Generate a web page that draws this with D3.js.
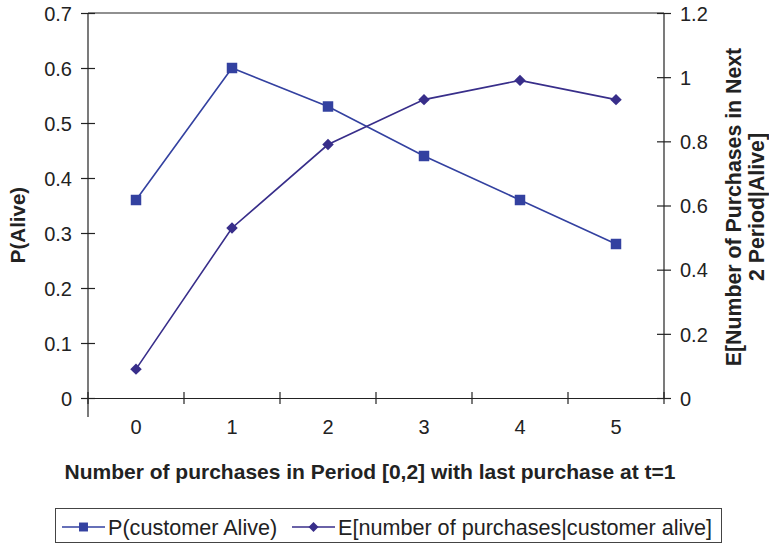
<!DOCTYPE html>
<html>
<head>
<meta charset="utf-8">
<script src="https://cdn.jsdelivr.net/npm/d3@7"></script>
<style>
  html, body { margin: 0; padding: 0; background: #fff; }
  svg { display: block; font-family: "Liberation Sans", Arial, Helvetica, sans-serif; }
</style>
</head>
<body>
<svg id="chart" width="769" height="545"></svg>
<script>
// ---- data ----
const categories = ["0", "1", "2", "3", "4", "5"];
const pAlive = [0.36, 0.60, 0.53, 0.44, 0.36, 0.28];
const eAlive = [0.09, 0.53, 0.79, 0.93, 0.99, 0.93];
const leftTicks = [0, 0.1, 0.2, 0.3, 0.4, 0.5, 0.6, 0.7];
const rightTicks = [0, 0.2, 0.4, 0.6, 0.8, 1, 1.2];
const seriesNames = ["P(customer Alive)", "E[number of purchases|customer alive]"];
const xTitle = "Number of purchases in Period [0,2] with last purchase at t=1";
const yLeftTitle = "P(Alive)";
const yRightTitle = ["E[Number of Purchases in Next", "2 Period|Alive]"];

// ---- layout ----
const L = 88, R = 664, T = 13, B = 398;
const colP = "#3341a0", colE = "#382e8a", axisCol = "#222";

const svg = d3.select("#chart");
const x = d3.scaleBand().domain(categories).range([L, R]);
const yL = d3.scaleLinear().domain([0, 0.7]).range([B, T]);
const yR = d3.scaleLinear().domain([0, 1.2]).range([B, T]);
const cx = c => x(c) + x.bandwidth() / 2;

const fmt = d => d === 0 ? "0" : String(+d.toFixed(1));

// top border
svg.append("line").attr("x1", L).attr("x2", R).attr("y1", T).attr("y2", T)
  .attr("stroke", axisCol).attr("stroke-width", 1.2);

// left axis
const gL = svg.append("g").attr("transform", `translate(${L},0)`)
  .call(d3.axisLeft(yL).tickValues(leftTicks).tickFormat(fmt).tickSize(7).tickPadding(9));
gL.select(".domain").remove();
gL.selectAll(".tick line").attr("x1", -7).attr("x2", 7).attr("stroke", axisCol).attr("stroke-width", 1.2);
gL.selectAll(".tick text").attr("font-size", 20).attr("fill", "#222").attr("x", -16).attr("dy", "0.36em");
svg.append("line").attr("x1", L).attr("x2", L).attr("y1", T).attr("y2", 417)
  .attr("stroke", axisCol).attr("stroke-width", 1.2);

// right axis
const gR = svg.append("g").attr("transform", `translate(${R},0)`)
  .call(d3.axisRight(yR).tickValues(rightTicks).tickFormat(fmt).tickSize(7).tickPadding(9));
gR.select(".domain").remove();
gR.selectAll(".tick line").attr("x1", -7).attr("x2", 7).attr("stroke", axisCol).attr("stroke-width", 1.2);
gR.selectAll(".tick text").attr("font-size", 20).attr("fill", "#222").attr("x", 16).attr("dy", "0.36em");
svg.append("line").attr("x1", R).attr("x2", R).attr("y1", T).attr("y2", B)
  .attr("stroke", axisCol).attr("stroke-width", 1.2);

// bottom axis
const gB = svg.append("g").attr("transform", `translate(0,${B})`)
  .call(d3.axisBottom(x).tickSize(0).tickPadding(36));
gB.select(".domain").attr("stroke", axisCol).attr("stroke-width", 1.2);
gB.selectAll(".tick text").attr("font-size", 20).attr("fill", "#222").attr("dy", "0");
const edges = categories.map(c => x(c)).concat([x.range()[1]]);
gB.selectAll("line.edge").data(edges).enter().append("line")
  .attr("class", "edge").attr("x1", d => d).attr("x2", d => d)
  .attr("y1", -6).attr("y2", 6).attr("stroke", axisCol).attr("stroke-width", 1.2);

// titles
svg.append("text").attr("x", 370).attr("y", 479).attr("text-anchor", "middle")
  .attr("font-size", 21).attr("font-weight", "bold").attr("fill", "#222").text(xTitle);
svg.append("text").attr("transform", "translate(25,225) rotate(-90)").attr("text-anchor", "middle")
  .attr("font-size", 20.5).attr("font-weight", "bold").attr("fill", "#222").text(yLeftTitle);
const rt = svg.append("text").attr("transform", "translate(741,207) rotate(-90)").attr("text-anchor", "middle")
  .attr("font-size", 21.3).attr("font-weight", "bold").attr("fill", "#222");
yRightTitle.forEach((t, i) => rt.append("tspan").attr("x", 0).attr("dy", i === 0 ? 0 : 23).text(t));

// series
const lineP = d3.line().x((d, i) => cx(categories[i])).y(d => yL(d));
const lineE = d3.line().x((d, i) => cx(categories[i])).y(d => yR(d));
svg.append("path").datum(pAlive).attr("d", lineP).attr("fill", "none").attr("stroke", colP).attr("stroke-width", 1.6);
svg.append("path").datum(eAlive).attr("d", lineE).attr("fill", "none").attr("stroke", colE).attr("stroke-width", 1.6);

const sq = d3.symbol().type(d3.symbolSquare).size(110);
const dm = d3.symbol().type(d3.symbolDiamond2).size(84);
svg.selectAll("path.sq").data(pAlive).enter().append("path").attr("class", "sq")
  .attr("d", sq).attr("transform", (d, i) => `translate(${cx(categories[i])},${yL(d)})`).attr("fill", colP);
svg.selectAll("path.dm").data(eAlive).enter().append("path").attr("class", "dm")
  .attr("d", dm).attr("transform", (d, i) => `translate(${cx(categories[i])},${yR(d)})`).attr("fill", colE);

// legend
svg.append("rect").attr("x", 55.5).attr("y", 508.5).attr("width", 666).attr("height", 34)
  .attr("fill", "#fff").attr("stroke", "#444").attr("stroke-width", 1);
const legY = 527;
const leg = [
  { x1: 62, x2: 105, col: colP, sym: d3.symbol().type(d3.symbolSquare).size(80), tx: 108, name: seriesNames[0] },
  { x1: 292, x2: 335, col: colE, sym: d3.symbol().type(d3.symbolDiamond2).size(64), tx: 338, name: seriesNames[1] }
];
leg.forEach(l => {
  svg.append("line").attr("x1", l.x1).attr("x2", l.x2).attr("y1", legY).attr("y2", legY)
    .attr("stroke", l.col).attr("stroke-width", 1.6);
  svg.append("path").attr("d", l.sym())
    .attr("transform", `translate(${(l.x1 + l.x2) / 2},${legY})`).attr("fill", l.col);
  svg.append("text").attr("x", l.tx).attr("y", 535).attr("font-size", 21.6).attr("fill", "#222").text(l.name);
});
</script>
</body>
</html>
